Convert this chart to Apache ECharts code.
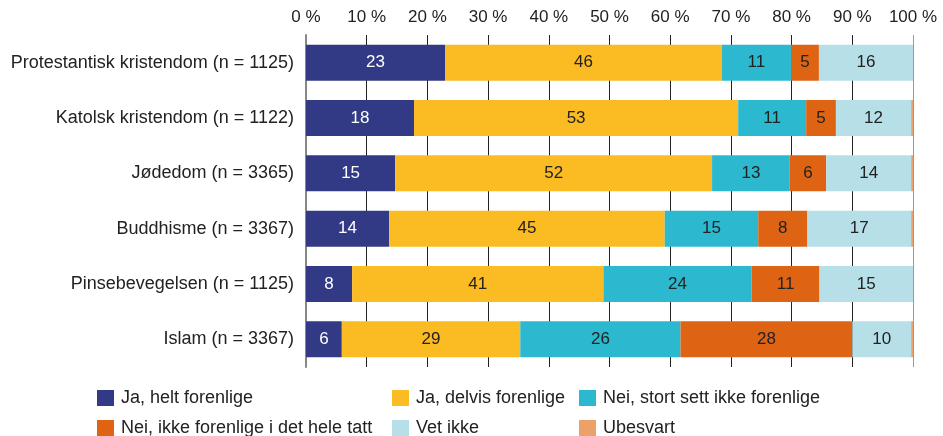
<!DOCTYPE html>
<html>
<head>
<meta charset="utf-8">
<script src="https://cdn.jsdelivr.net/npm/echarts@6/dist/echarts.min.js"></script>
<style>
html,body{margin:0;padding:0;background:#fff;}
#main{width:943px;height:436px;}
</style>
</head>
<body>
<div id="main"></div>
<script>
var categories = ['Protestantisk kristendom (n = 1125)', 'Katolsk kristendom (n = 1122)', 'Jødedom (n = 3365)', 'Buddhisme (n = 3367)', 'Pinsebevegelsen (n = 1125)', 'Islam (n = 3367)'];
var seriesNames = ['Ja, helt forenlige', 'Ja, delvis forenlige', 'Nei, stort sett ikke forenlige', 'Nei, ikke forenlige i det hele tatt', 'Vet ikke', 'Ubesvart'];
var helt = [22.9, 17.8, 14.7, 13.7, 7.6, 5.9];
var delvis = [45.6, 53.4, 52.2, 45.4, 41.4, 29.4];
var stortSett = [11.4, 11.2, 12.8, 15.4, 24.4, 26.4];
var ikke = [4.6, 4.9, 6.0, 8.1, 11.2, 28.3];
var vetIkke = [15.5, 12.4, 14.0, 17.1, 15.4, 9.7];
var ubesvart = [0, 0.3, 0.3, 0.3, 0, 0.3];
var colors = ['#323a85', '#fbbb22', '#2cb8cf', '#de6414', '#b6dfe8', '#eca06a'];

var allData = [helt, delvis, stortSett, ikke, vetIkke, ubesvart];
var font = 'Liberation Sans, Arial, sans-serif';

var series = [];
for (var i = 0; i < seriesNames.length; i++) {
    series.push({
        name: seriesNames[i],
        type: 'bar',
        stack: 'total',
        barWidth: 36,
        data: allData[i],
        itemStyle: { color: colors[i] },
        label: {
            show: i < 5,
            position: 'inside',
            fontSize: 17,
            fontFamily: font,
            color: i === 0 ? '#ffffff' : '#222222',
            formatter: function (p) { return Math.round(p.value); }
        }
    });
}

// legend placement: 3 columns, 2 rows
var legendPos = [[97, 389], [392, 389], [579, 389], [97, 419], [392, 419], [579, 419]];
var legends = [];
for (var j = 0; j < seriesNames.length; j++) {
    legends.push({
        data: [seriesNames[j]],
        left: legendPos[j][0],
        top: legendPos[j][1],
        padding: 0,
        itemWidth: 17,
        itemHeight: 16,
        icon: 'rect',
        itemGap: 0,
        textStyle: { fontSize: 18, fontFamily: font, color: '#222', padding: [0, 0, 0, 2] },
        selectedMode: false
    });
}

var gridColors = ['#888'];
for (var k = 1; k < 10; k++) gridColors.push('#222');
gridColors.push('#999');

var myChart = echarts.init(document.getElementById('main'));
myChart.setOption({
    animation: false,
    textStyle: { fontFamily: font },
    grid: { left: 306, right: 30, top: 35, bottom: 69 },
    legend: legends,
    xAxis: {
        type: 'value',
        position: 'top',
        min: 0,
        max: 100,
        interval: 10,
        axisLine: { show: false },
        axisTick: { show: false },
        axisLabel: { formatter: '{value} %', fontSize: 17, color: '#222', margin: 9 },
        splitLine: { show: true, lineStyle: { color: gridColors, width: 1 } }
    },
    yAxis: {
        type: 'category',
        inverse: true,
        data: categories,
        axisLine: { show: true, lineStyle: { color: '#888', width: 2 } },
        axisTick: { show: false },
        axisLabel: { fontSize: 18, color: '#222', margin: 12 }
    },
    series: series
});
</script>
</body>
</html>
